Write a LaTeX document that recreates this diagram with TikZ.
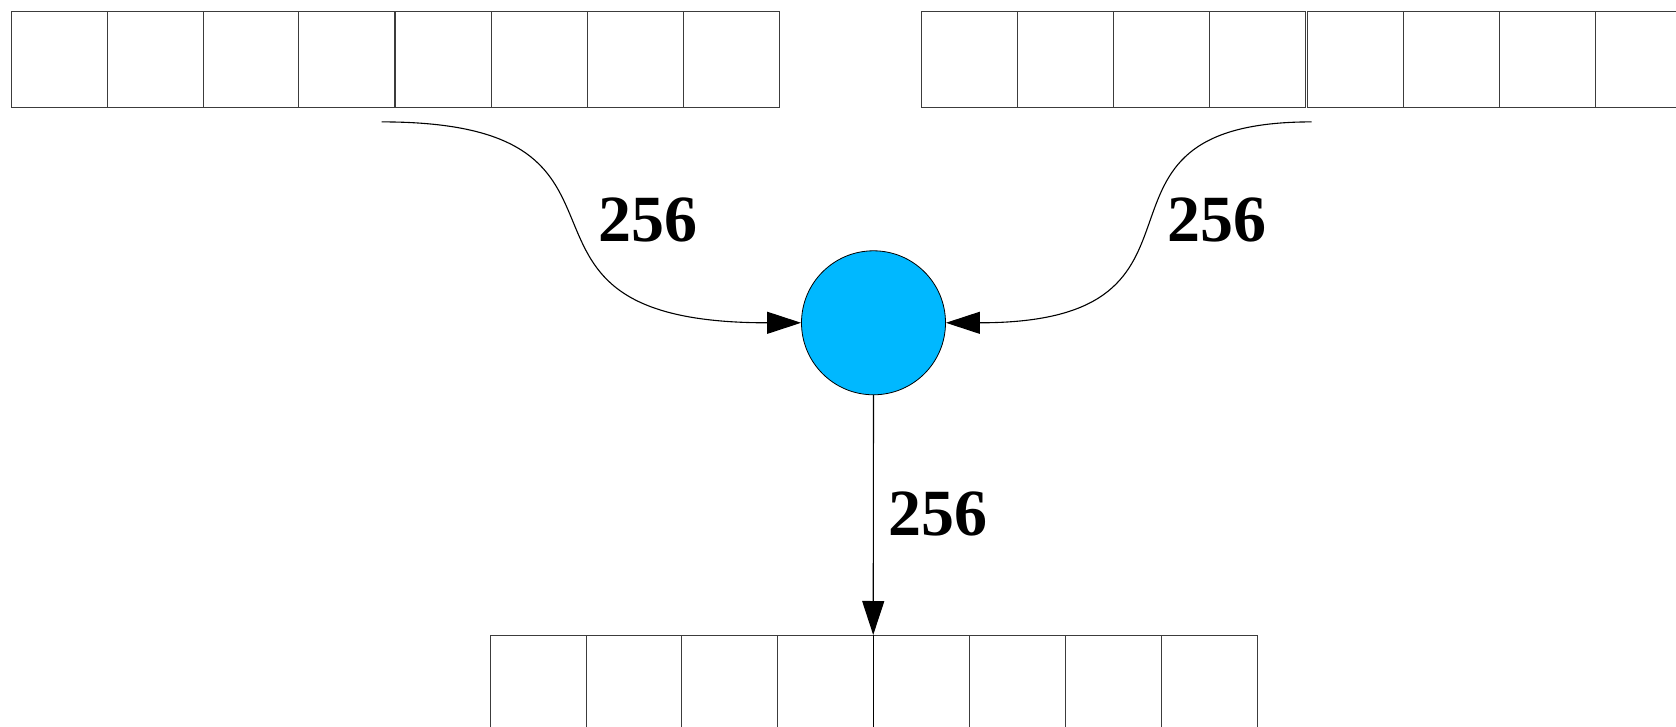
\documentclass[tikz,border=0pt]{standalone}
\usepackage{fontspec}
\newfontfamily\widthfont{Liberation Serif Bold}
\usetikzlibrary{arrows.meta}
\definecolor{nodeblue}{RGB}{0,184,255}
\definecolor{gridgray}{RGB}{60,60,60}
\begin{document}
\begin{tikzpicture}[x=1pt,y=-1pt,
  cell/.style={draw=gridgray,line width=1pt,minimum width=95.9pt,minimum height=96.2pt,inner sep=0pt,anchor=north west},
  adder/.style={circle,draw=black,line width=0.8pt,fill=nodeblue,minimum size=144pt,inner sep=0pt},
  conn/.style={draw=black,line width=1.1pt,-{Triangle[length=34pt,width=22pt]}},
  count/.style={font=\widthfont\fontsize{66}{70}\selectfont,inner sep=0pt}]
\useasboundingbox (0,0) rectangle (1676,727);

% first input register (two halves of four cells)
\foreach \i in {0,...,3} {
  \node[cell] (a\i) at ({10.7+95.9*\i},10.7) {};
}
\foreach \i in {4,...,7} {
  \node[cell] (a\i) at ({11.7+95.9*\i},10.7) {};
}
% second input register
\foreach \i in {0,...,3} {
  \node[cell] (b\i) at ({921.4+95.9*\i},10.7) {};
}
\foreach \i in {4,...,7} {
  \node[cell] (b\i) at ({923.4+95.9*\i},10.7) {};
}
% output register
\foreach \i in {0,...,7} {
  \node[cell] (c\i) at ({489.6+95.9*\i},635) {};
}
\draw[black,line width=1.2pt] (c4.north west) -- (c4.south west);

% combining node
\node[adder] (sum) at (873.5,322.8) {};

% connector ends below the input registers
\coordinate (lsrc) at (381.6,121.9);
\coordinate (rsrc) at (1311.5,121.9);

\draw[conn] (lsrc) .. controls +(301,0) and +(-338,0) .. (sum.west);
\draw[conn] (rsrc) .. controls +(-256,0) and +(300,0) .. (sum.east);
\draw[conn] (sum.south) -- (c4.north west);

% bit widths
\node[count] (l1) at (647.7,220) {256};
\node[count] (l2) at (1217,220) {256};
\node[count] (l3) at (937.5,514) {256};
\end{tikzpicture}
\end{document}
